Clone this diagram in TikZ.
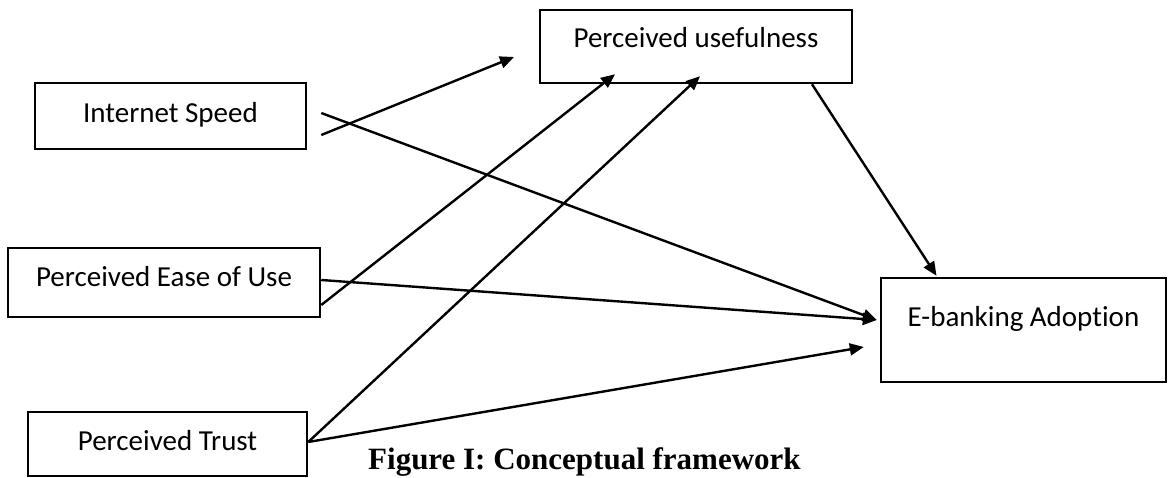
\documentclass[tikz,border=0pt]{standalone}
\usepackage{fontspec}
\setmainfont{Carlito}[Ligatures={NoCommon}]
\newfontfamily\capfont{Liberation Serif}
\usetikzlibrary{arrows.meta}
\begin{document}
\begin{tikzpicture}[x=1pt,y=-1pt,
  box/.style={draw, line width=2.5pt, inner sep=0pt, font=\fontsize{29}{34}\selectfont, text height=20pt, text depth=7pt},
  arr/.style={line width=2.4pt, -{Triangle[length=14pt,width=12pt]}}]
\useasboundingbox (0,0) rectangle (1168,478);
\node[box, minimum width=271pt, minimum height=66pt] (is) at (170.5,116) {Internet Speed};
\node[box, minimum width=312pt, minimum height=73pt, text depth=17pt] (pu) at (696,46.5) {Perceived usefulness};
\node[box, minimum width=312pt, minimum height=69pt, text depth=11pt] (peou) at (164,282.5) {Perceived Ease of Use};
\node[box, minimum width=279pt, minimum height=64pt] (pt) at (167.5,444) {Perceived Trust};
\node[box, minimum width=285pt, minimum height=104pt, text depth=26pt] (eb) at (1023.5,330) {E-banking Adoption};
\coordinate (puA) at (514,57);
\draw[arr] ([shift={(14,19)}]is.east) -- (puA);
\draw[arr] ([shift={(14,-3)}]is.east) -- ([shift={(-3,-10)}]eb.west);
\draw[arr] ([shift={(0,-2.5)}]peou.east) -- ([shift={(-3,-10)}]eb.west);
\draw[arr] ([shift={(0,22.5)}]peou.east) -- ([shift={(-81,-10)}]pu.south);
\draw[arr] ([shift={(0,-2)}]pt.east) -- ([shift={(4,-8)}]pu.south);
\draw[arr] ([shift={(0,-2)}]pt.east) -- ([shift={(-16,17)}]eb.west);
\draw[arr] ([shift={(116,0)}]pu.south) -- ([shift={(-87,-1)}]eb.north);
\node[anchor=base west, font=\capfont\bfseries\fontsize{31}{36}\selectfont, inner sep=0pt] (cap) at (368,469) {Figure I: Conceptual framework};
\end{tikzpicture}
\end{document}
